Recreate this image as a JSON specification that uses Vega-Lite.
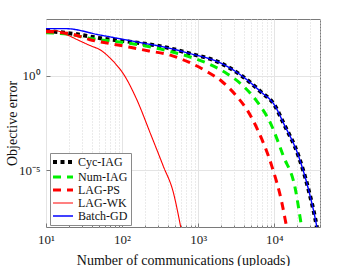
{
  "$schema": "https://vega.github.io/schema/vega-lite/v6.json",
  "width": 274,
  "height": 208,
  "autosize": {"type": "none"},
  "padding": {"left": 46, "top": 19, "right": 34, "bottom": 39},
  "background": "white",
  "config": {
    "view": {"stroke": "#7a7a7a", "strokeWidth": 1},
    "font": "Liberation Serif"
  },
  "data": {
    "values": [
      {"s": "Cyc-IAG", "x": 10, "y": 240},
      {"s": "Cyc-IAG", "x": 25.6, "y": 155},
      {"s": "Cyc-IAG", "x": 52.5, "y": 95},
      {"s": "Cyc-IAG", "x": 159, "y": 56},
      {"s": "Cyc-IAG", "x": 357, "y": 33},
      {"s": "Cyc-IAG", "x": 785, "y": 14.8},
      {"s": "Cyc-IAG", "x": 1950, "y": 4.8},
      {"s": "Cyc-IAG", "x": 3560, "y": 1.15},
      {"s": "Cyc-IAG", "x": 6540, "y": 0.151},
      {"s": "Cyc-IAG", "x": 10300, "y": 0.0245},
      {"s": "Cyc-IAG", "x": 13200, "y": 0.0032},
      {"s": "Cyc-IAG", "x": 20900, "y": 5.6e-5},
      {"s": "Cyc-IAG", "x": 28200, "y": 9.8e-7},
      {"s": "Cyc-IAG", "x": 34800, "y": 2.5e-8},
      {"s": "Cyc-IAG", "x": 37500, "y": 5e-9},

      {"s": "Num-IAG", "x": 10, "y": 190},
      {"s": "Num-IAG", "x": 20, "y": 155},
      {"s": "Num-IAG", "x": 40.6, "y": 91},
      {"s": "Num-IAG", "x": 71, "y": 69},
      {"s": "Num-IAG", "x": 130, "y": 50},
      {"s": "Num-IAG", "x": 239, "y": 33},
      {"s": "Num-IAG", "x": 426, "y": 19.5},
      {"s": "Num-IAG", "x": 785, "y": 9.8},
      {"s": "Num-IAG", "x": 1445, "y": 3.9},
      {"s": "Num-IAG", "x": 2400, "y": 1.29},
      {"s": "Num-IAG", "x": 3960, "y": 0.275},
      {"s": "Num-IAG", "x": 5900, "y": 0.045},
      {"s": "Num-IAG", "x": 8900, "y": 0.0032},
      {"s": "Num-IAG", "x": 13200, "y": 5.6e-5},
      {"s": "Num-IAG", "x": 19000, "y": 9.8e-7},
      {"s": "Num-IAG", "x": 21900, "y": 3.2e-8},
      {"s": "Num-IAG", "x": 23500, "y": 5e-9},

      {"s": "LAG-PS", "x": 10, "y": 214},
      {"s": "LAG-PS", "x": 21, "y": 166},
      {"s": "LAG-PS", "x": 37, "y": 83},
      {"s": "LAG-PS", "x": 67.5, "y": 51},
      {"s": "LAG-PS", "x": 123, "y": 33},
      {"s": "LAG-PS", "x": 226, "y": 20.4},
      {"s": "LAG-PS", "x": 405, "y": 13.2},
      {"s": "LAG-PS", "x": 740, "y": 5.4},
      {"s": "LAG-PS", "x": 1290, "y": 1.7},
      {"s": "LAG-PS", "x": 2040, "y": 0.51},
      {"s": "LAG-PS", "x": 3220, "y": 0.081},
      {"s": "LAG-PS", "x": 4380, "y": 0.0162},
      {"s": "LAG-PS", "x": 6170, "y": 0.00117},
      {"s": "LAG-PS", "x": 9300, "y": 1.66e-5},
      {"s": "LAG-PS", "x": 12600, "y": 1.95e-7},
      {"s": "LAG-PS", "x": 14200, "y": 1.7e-8},
      {"s": "LAG-PS", "x": 15200, "y": 4e-9},

      {"s": "LAG-WK", "x": 10, "y": 251},
      {"s": "LAG-WK", "x": 14, "y": 234},
      {"s": "LAG-WK", "x": 18.6, "y": 150},
      {"s": "LAG-WK", "x": 25.9, "y": 80},
      {"s": "LAG-WK", "x": 38.8, "y": 38},
      {"s": "LAG-WK", "x": 51.5, "y": 23.4},
      {"s": "LAG-WK", "x": 69, "y": 8.9},
      {"s": "LAG-WK", "x": 82.5, "y": 4.17},
      {"s": "LAG-WK", "x": 104, "y": 1.26},
      {"s": "LAG-WK", "x": 156, "y": 0.055},
      {"s": "LAG-WK", "x": 234, "y": 0.00095},
      {"s": "LAG-WK", "x": 348, "y": 1.66e-5},
      {"s": "LAG-WK", "x": 473, "y": 6.5e-7},
      {"s": "LAG-WK", "x": 575, "y": 1.7e-8},
      {"s": "LAG-WK", "x": 610, "y": 5e-9},

      {"s": "Batch-GD", "x": 10, "y": 309},
      {"s": "Batch-GD", "x": 18.2, "y": 309},
      {"s": "Batch-GD", "x": 50, "y": 145},
      {"s": "Batch-GD", "x": 100, "y": 86},
      {"s": "Batch-GD", "x": 200, "y": 51},
      {"s": "Batch-GD", "x": 357, "y": 33},
      {"s": "Batch-GD", "x": 785, "y": 14.8},
      {"s": "Batch-GD", "x": 1950, "y": 4.8},
      {"s": "Batch-GD", "x": 3560, "y": 1.15},
      {"s": "Batch-GD", "x": 6540, "y": 0.151},
      {"s": "Batch-GD", "x": 10300, "y": 0.0245},
      {"s": "Batch-GD", "x": 13200, "y": 0.0032},
      {"s": "Batch-GD", "x": 20900, "y": 5.6e-5},
      {"s": "Batch-GD", "x": 28200, "y": 9.8e-7},
      {"s": "Batch-GD", "x": 34800, "y": 2.5e-8},
      {"s": "Batch-GD", "x": 37500, "y": 5e-9}
    ]
  },
  "encoding": {
    "x": {
      "field": "x", "type": "quantitative",
      "scale": {"type": "log", "domain": [10, 40000], "nice": false},
      "axis": {
        "values": [10,20,30,40,50,60,70,80,90,100,200,300,400,500,600,700,800,900,1000,2000,3000,4000,5000,6000,7000,8000,9000,10000,20000,30000,40000],
        "labelExpr": "datum.value == 10 ? '10¹' : datum.value == 100 ? '10²' : datum.value == 1000 ? '10³' : datum.value == 10000 ? '10⁴' : ''",
        "labelOverlap": false,
        "labelFlush": false,
        "labelFont": "Liberation Serif",
        "labelFontSize": 13,
        "labelColor": "#222",
        "labelPadding": 10,
        "domain": false,
        "grid": true,
        "gridColor": {"condition": {"test": "indexof([10,100,1000,10000], datum.value) >= 0", "value": "#e4e4e4"}, "value": "#d6d6d6"},
        "gridDash": {"condition": {"test": "indexof([10,100,1000,10000], datum.value) >= 0", "value": []}, "value": [1, 2]},
        "tickColor": "#7a7a7a",
        "tickSize": {"condition": {"test": "indexof([10,100,1000,10000], datum.value) >= 0", "value": -4}, "value": -2},
        "title": "Number of communications (uploads)",
        "titleFont": "Liberation Serif",
        "titleFontSize": 14,
        "titleFontWeight": "normal",
        "titleColor": "#111",
        "titleY": 33,
        "titleBaseline": "middle"
      }
    },
    "y": {
      "field": "y", "type": "quantitative",
      "scale": {"type": "log", "domain": [1e-8, 1000], "nice": false},
      "axis": {
        "values": [1, 0.00001],
        "labelExpr": "datum.value == 1 ? '10⁰' : '10⁻⁵'",
        "labelFont": "Liberation Serif",
        "labelFontSize": 13,
        "labelColor": "#222",
        "labelPadding": 10,
        "domain": false,
        "grid": true,
        "gridColor": "#e4e4e4",
        "tickColor": "#7a7a7a",
        "tickSize": -4,
        "title": "Objective error",
        "titleFont": "Liberation Serif",
        "titleFontSize": 14,
        "titleFontWeight": "normal",
        "titleColor": "#111",
        "titleX": -34,
        "titleY": 104,
        "titleBaseline": "middle",
        "titleAngle": -90
      }
    },
    "color": {
      "field": "s", "type": "nominal",
      "scale": {"domain": ["Cyc-IAG", "Num-IAG", "LAG-PS", "LAG-WK", "Batch-GD"], "range": ["#000000", "#00f000", "#ff0000", "#ff0000", "#0000ff"]},
      "legend": {
        "orient": "none", "legendX": 4, "legendY": 134,
        "title": null,
        "fillColor": "white", "strokeColor": "#8a8a8a",
        "padding": 3, "rowPadding": 1,
        "labelFont": "Liberation Serif", "labelFontSize": 12, "labelColor": "#111",
        "symbolType": "M-3,0H3", "symbolSize": 44.4, "symbolOffset": 4, "labelOffset": 9
      }
    },
    "strokeDash": {
      "field": "s", "type": "nominal",
      "scale": {"domain": ["Cyc-IAG", "Num-IAG", "LAG-PS", "LAG-WK", "Batch-GD"], "range": [[4, 3.5], [8, 6], [8, 6], [1, 0], [1, 0]]},
      "legend": {
        "orient": "none", "legendX": 4, "legendY": 134,
        "title": null,
        "fillColor": "white", "strokeColor": "#8a8a8a",
        "padding": 3, "rowPadding": 1,
        "labelFont": "Liberation Serif", "labelFontSize": 12, "labelColor": "#111",
        "symbolType": "M-3,0H3", "symbolSize": 44.4, "symbolOffset": 4, "labelOffset": 9
      }
    },
    "strokeWidth": {
      "field": "s", "type": "nominal",
      "scale": {"type": "ordinal", "domain": ["Cyc-IAG", "Num-IAG", "LAG-PS", "LAG-WK", "Batch-GD"], "range": [4, 3, 3, 1.1, 1.4]},
      "legend": {
        "orient": "none", "legendX": 4, "legendY": 134,
        "title": null,
        "fillColor": "white", "strokeColor": "#8a8a8a",
        "padding": 3, "rowPadding": 1,
        "labelFont": "Liberation Serif", "labelFontSize": 12, "labelColor": "#111",
        "symbolType": "M-3,0H3", "symbolSize": 44.4, "symbolOffset": 4, "labelOffset": 9
      }
    }
  },
  "layer": [
    {"transform": [{"filter": "datum.s == 'Cyc-IAG'"}], "mark": {"type": "line", "clip": true, "interpolate": "monotone", "strokeCap": "butt"}},
    {"transform": [{"filter": "datum.s == 'Num-IAG'"}], "mark": {"type": "line", "clip": true, "interpolate": "monotone", "strokeCap": "butt"}},
    {"transform": [{"filter": "datum.s == 'LAG-PS'"}], "mark": {"type": "line", "clip": true, "interpolate": "monotone", "strokeCap": "butt"}},
    {"transform": [{"filter": "datum.s == 'LAG-WK'"}], "mark": {"type": "line", "clip": true, "interpolate": "monotone"}},
    {"transform": [{"filter": "datum.s == 'Batch-GD'"}], "mark": {"type": "line", "clip": true, "interpolate": "monotone"}}
  ]
}
